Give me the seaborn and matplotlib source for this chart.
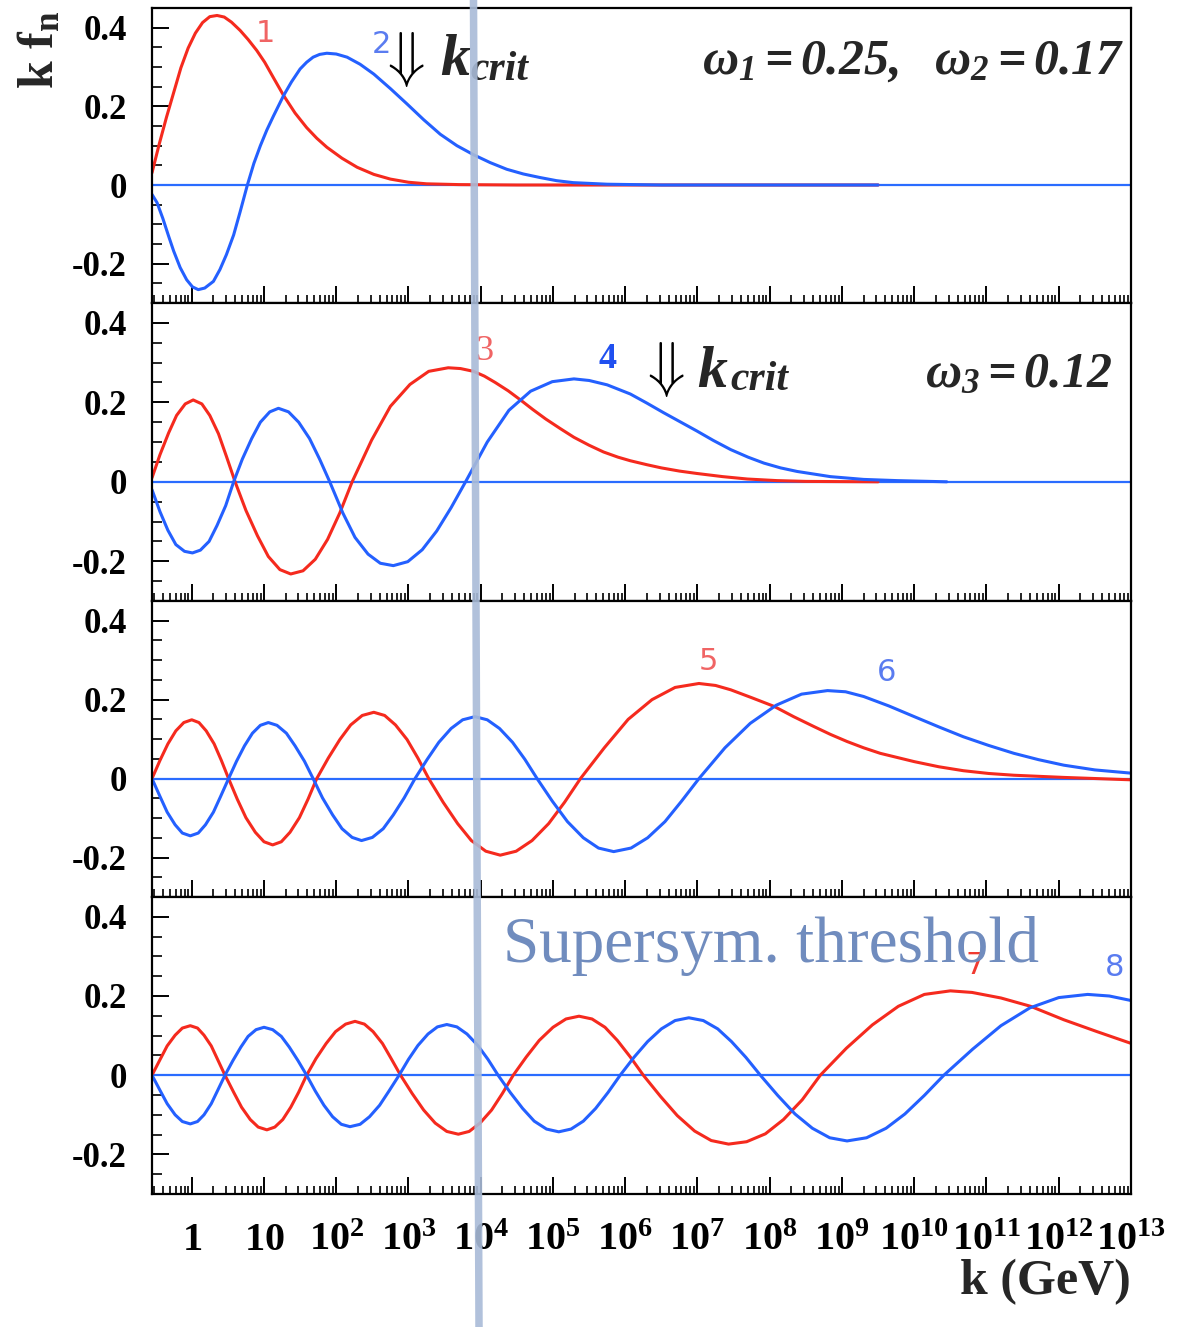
import numpy as np
import pandas as pd
import matplotlib
matplotlib.use("Agg")
import matplotlib.pyplot as plt
import seaborn as sns
from matplotlib.lines import Line2D
from matplotlib.ticker import FixedLocator, MultipleLocator, NullFormatter

# ---------------- data: (log10 k [GeV], k f_n) ----------------
curve1 = [(-0.55, 0.031), (-0.45, 0.104), (-0.35, 0.172), (-0.25, 0.235), (-0.15, 0.298), (-0.05, 0.348),
          (0.05, 0.386), (0.15, 0.413), (0.25, 0.428), (0.35, 0.431), (0.45, 0.427), (0.55, 0.414),
          (0.67, 0.393), (0.78, 0.370), (0.90, 0.342), (1.01, 0.312), (1.13, 0.273), (1.27, 0.228),
          (1.43, 0.183), (1.59, 0.146), (1.73, 0.119), (1.87, 0.096), (2.08, 0.068), (2.29, 0.045),
          (2.52, 0.027), (2.75, 0.015), (3.00, 0.007), (3.25, 0.003), (3.70, 0.001), (4.50, 0.0), (9.50, 0.0)]

curve2 = [(-0.55, -0.024), (-0.48, -0.045), (-0.40, -0.085), (-0.32, -0.130), (-0.25, -0.168), (-0.16, -0.210),
          (-0.07, -0.241), (0.01, -0.259), (0.09, -0.266), (0.18, -0.262), (0.30, -0.245), (0.39, -0.215),
          (0.48, -0.177), (0.58, -0.127), (0.67, -0.068), (0.77, 0.0), (0.86, 0.055), (0.95, 0.100),
          (1.04, 0.140), (1.13, 0.175), (1.27, 0.227), (1.38, 0.262), (1.50, 0.295), (1.59, 0.312),
          (1.68, 0.325), (1.77, 0.332), (1.87, 0.335), (2.00, 0.333), (2.15, 0.325), (2.33, 0.307),
          (2.52, 0.282), (2.75, 0.245), (2.98, 0.206), (3.21, 0.166), (3.44, 0.129), (3.67, 0.100),
          (3.90, 0.077), (4.13, 0.057), (4.36, 0.040), (4.59, 0.028), (4.82, 0.019), (5.05, 0.011),
          (5.28, 0.006), (5.75, 0.002), (6.50, 0.0), (9.50, 0.0)]

curve3 = [(-0.55, 0.010), (-0.44, 0.068), (-0.32, 0.123), (-0.21, 0.167), (-0.09, 0.196), (0.02, 0.206),
          (0.14, 0.196), (0.25, 0.167), (0.37, 0.121), (0.48, 0.064), (0.60, 0.0),
          (0.75, -0.072), (0.91, -0.136), (1.06, -0.188), (1.22, -0.221), (1.37, -0.232),
          (1.54, -0.224), (1.71, -0.195), (1.88, -0.145), (2.05, -0.078), (2.22, 0.0),
          (2.49, 0.105), (2.75, 0.190), (3.02, 0.245), (3.28, 0.278), (3.55, 0.287),
          (3.72, 0.285), (3.90, 0.278), (4.05, 0.266), (4.20, 0.250), (4.38, 0.229), (4.55, 0.206),
          (4.72, 0.182), (4.90, 0.158), (5.10, 0.134), (5.29, 0.112), (5.50, 0.092), (5.70, 0.075),
          (5.90, 0.062), (6.07, 0.053), (6.30, 0.043), (6.50, 0.035), (6.75, 0.027), (6.99, 0.021),
          (7.35, 0.013), (7.69, 0.007), (8.10, 0.003), (8.50, 0.001), (9.50, 0.0)]

curve4 = [(-0.55, -0.020), (-0.44, -0.075), (-0.33, -0.122), (-0.22, -0.158), (-0.10, -0.175), (0.01, -0.179),
          (0.12, -0.172), (0.24, -0.150), (0.35, -0.110), (0.47, -0.060), (0.58, 0.0),
          (0.70, 0.057), (0.83, 0.109), (0.95, 0.150), (1.08, 0.176), (1.20, 0.185),
          (1.34, 0.176), (1.48, 0.150), (1.63, 0.109), (1.77, 0.057), (1.91, 0.0),
          (2.09, -0.078), (2.26, -0.140), (2.44, -0.182), (2.61, -0.205), (2.79, -0.211),
          (2.99, -0.201), (3.19, -0.171), (3.39, -0.124), (3.59, -0.065), (3.79, 0.0),
          (4.09, 0.100), (4.39, 0.180), (4.69, 0.228), (4.99, 0.252), (5.29, 0.259),
          (5.50, 0.255), (5.75, 0.244), (6.07, 0.221), (6.30, 0.198), (6.53, 0.174), (6.76, 0.151),
          (6.99, 0.128), (7.22, 0.104), (7.46, 0.081), (7.70, 0.062), (7.92, 0.047), (8.15, 0.035),
          (8.38, 0.026), (8.84, 0.013), (9.30, 0.006), (9.76, 0.003), (10.45, 0.0)]

curve5 = [(-0.55, 0.0), (-0.44, 0.046), (-0.33, 0.088), (-0.22, 0.121), (-0.11, 0.142), (0.0, 0.149),
          (0.10, 0.142), (0.20, 0.121), (0.31, 0.088), (0.41, 0.046), (0.51, 0.0),
          (0.63, -0.052), (0.75, -0.099), (0.88, -0.136), (1.00, -0.160), (1.12, -0.168),
          (1.24, -0.160), (1.36, -0.136), (1.49, -0.099), (1.61, -0.052), (1.73, 0.0),
          (1.89, 0.052), (2.05, 0.099), (2.20, 0.136), (2.36, 0.160), (2.52, 0.168),
          (2.67, 0.160), (2.82, 0.136), (2.98, 0.099), (3.13, 0.052), (3.28, 0.0),
          (3.48, -0.060), (3.68, -0.114), (3.87, -0.157), (4.07, -0.184), (4.27, -0.194),
          (4.49, -0.184), (4.71, -0.157), (4.94, -0.114), (5.16, -0.060), (5.38, 0.0),
          (5.71, 0.078), (6.04, 0.150), (6.37, 0.200), (6.69, 0.231), (7.02, 0.241),
          (7.25, 0.236), (7.46, 0.225), (7.75, 0.205), (8.06, 0.183), (8.33, 0.157), (8.61, 0.132),
          (8.84, 0.112), (9.07, 0.094), (9.30, 0.078), (9.53, 0.064), (10.00, 0.043), (10.34, 0.030),
          (10.68, 0.020), (11.03, 0.013), (11.38, 0.0085), (12.07, 0.003), (12.99, -0.003)]

curve6 = [(-0.55, 0.0), (-0.44, -0.045), (-0.34, -0.085), (-0.23, -0.117), (-0.13, -0.138), (-0.02, -0.145),
          (0.09, -0.138), (0.19, -0.117), (0.30, -0.085), (0.40, -0.045), (0.51, 0.0),
          (0.62, 0.044), (0.73, 0.083), (0.84, 0.115), (0.95, 0.135), (1.06, 0.142),
          (1.18, 0.135), (1.31, 0.115), (1.43, 0.083), (1.56, 0.044), (1.68, 0.0),
          (1.81, -0.049), (1.95, -0.092), (2.08, -0.127), (2.22, -0.149), (2.35, -0.157),
          (2.50, -0.149), (2.65, -0.127), (2.79, -0.092), (2.94, -0.049), (3.09, 0.0),
          (3.26, 0.049), (3.42, 0.092), (3.59, 0.127), (3.75, 0.149), (3.92, 0.157),
          (4.09, 0.149), (4.26, 0.127), (4.44, 0.092), (4.61, 0.049), (4.78, 0.0),
          (4.99, -0.057), (5.20, -0.109), (5.42, -0.150), (5.63, -0.176), (5.84, -0.185),
          (6.08, -0.176), (6.31, -0.150), (6.55, -0.109), (6.78, -0.057), (7.02, 0.0),
          (7.38, 0.078), (7.73, 0.140), (8.09, 0.186), (8.44, 0.214), (8.80, 0.223),
          (9.05, 0.220), (9.30, 0.208), (9.65, 0.184), (10.00, 0.157), (10.34, 0.131), (10.68, 0.106),
          (11.03, 0.084), (11.38, 0.064), (11.72, 0.048), (12.07, 0.034), (12.50, 0.022), (12.99, 0.014)]

curve7 = [(-0.55, 0.0), (-0.44, 0.039), (-0.34, 0.074), (-0.23, 0.101), (-0.13, 0.119), (-0.02, 0.125),
          (0.08, 0.119), (0.17, 0.101), (0.27, 0.074), (0.36, 0.039), (0.46, 0.0),
          (0.58, -0.043), (0.69, -0.081), (0.81, -0.112), (0.92, -0.131), (1.04, -0.138),
          (1.15, -0.131), (1.26, -0.112), (1.37, -0.081), (1.48, -0.043), (1.59, 0.0),
          (1.72, 0.042), (1.86, 0.080), (1.99, 0.110), (2.13, 0.129), (2.26, 0.136),
          (2.39, 0.129), (2.51, 0.110), (2.64, 0.080), (2.76, 0.042), (2.89, 0.0),
          (3.05, -0.046), (3.21, -0.088), (3.37, -0.121), (3.53, -0.142), (3.69, -0.149),
          (3.84, -0.142), (3.99, -0.121), (4.15, -0.088), (4.30, -0.046), (4.45, 0.0),
          (4.63, 0.046), (4.81, 0.088), (5.00, 0.121), (5.18, 0.142), (5.36, 0.149),
          (5.54, 0.142), (5.72, 0.121), (5.89, 0.088), (6.07, 0.046), (6.25, 0.0),
          (6.49, -0.054), (6.72, -0.102), (6.96, -0.141), (7.19, -0.165), (7.43, -0.174),
          (7.68, -0.168), (7.94, -0.148), (8.19, -0.112), (8.45, -0.062), (8.70, 0.0),
          (9.06, 0.068), (9.42, 0.127), (9.78, 0.174), (10.14, 0.204), (10.50, 0.213),
          (10.80, 0.209), (11.20, 0.195), (11.61, 0.174), (12.07, 0.140), (12.53, 0.110), (12.99, 0.081)]

curve8 = [(-0.55, 0.0), (-0.44, -0.038), (-0.34, -0.072), (-0.23, -0.100), (-0.13, -0.117), (-0.02, -0.123),
          (0.08, -0.117), (0.17, -0.100), (0.27, -0.072), (0.36, -0.038), (0.46, 0.0),
          (0.57, 0.037), (0.68, 0.071), (0.78, 0.098), (0.89, 0.115), (1.00, 0.121),
          (1.12, 0.115), (1.24, 0.098), (1.35, 0.071), (1.47, 0.037), (1.59, 0.0),
          (1.71, -0.040), (1.83, -0.076), (1.95, -0.105), (2.07, -0.124), (2.19, -0.130),
          (2.33, -0.124), (2.46, -0.105), (2.60, -0.076), (2.73, -0.040), (2.87, 0.0),
          (3.00, 0.040), (3.13, 0.075), (3.27, 0.104), (3.40, 0.122), (3.53, 0.128),
          (3.67, 0.122), (3.81, 0.104), (3.96, 0.075), (4.10, 0.040), (4.24, 0.0),
          (4.41, -0.044), (4.58, -0.084), (4.74, -0.116), (4.91, -0.136), (5.08, -0.143),
          (5.25, -0.136), (5.42, -0.116), (5.59, -0.084), (5.76, -0.044), (5.93, 0.0),
          (6.12, 0.045), (6.31, 0.085), (6.50, 0.117), (6.69, 0.138), (6.88, 0.145),
          (7.08, 0.138), (7.28, 0.117), (7.47, 0.085), (7.67, 0.045), (7.87, 0.0),
          (8.11, -0.051), (8.35, -0.098), (8.59, -0.134), (8.83, -0.158), (9.07, -0.166),
          (9.34, -0.158), (9.61, -0.134), (9.87, -0.098), (10.14, -0.051), (10.41, 0.0),
          (10.81, 0.066), (11.20, 0.125), (11.60, 0.170), (12.00, 0.196), (12.40, 0.204),
          (12.70, 0.200), (12.99, 0.189)]

curve_labels = ["1", "2", "3", "4", "5", "6", "7", "8"]
x_tick_exps = list(range(0, 14))
y_tick_vals = [-0.2, 0.0, 0.2, 0.4]
y_tick_text = ["-0.2", "0", "0.2", "0.4"]
omega_texts = [r"$\omega_{1}=0.25,\ \ \omega_{2}=0.17$", r"$\omega_{3}=0.12$"]

# ---------------- styling ----------------
sns.set_theme(style="ticks")
plt.rcParams.update({
    "font.family": ["Liberation Serif", "DejaVu Serif", "DejaVu Sans"],
    "mathtext.fontset": "custom",
    "mathtext.rm": "Liberation Serif:bold:italic",
    "mathtext.it": "Liberation Serif:bold:italic",
    "mathtext.bf": "Liberation Serif:bold",
    "axes.edgecolor": "black",
    "axes.linewidth": 1.6,
    "xtick.color": "black",
    "ytick.color": "black",
})

RED = "#f52a1e"
BLUE = "#2460ff"
ZERO = "#2a6cff"

W, H = 1186, 1327
fig = plt.figure(figsize=(W / 100, H / 100), dpi=100)
panel_px = [(8, 303), (303, 601), (601, 897), (897, 1194)]
L, R = 152, 1131

pairs = [(curve1, curve2), (curve3, curve4), (curve5, curve6), (curve7, curve8)]


def frame(points, name):
    x, y = zip(*points)
    return pd.DataFrame({"k": 10.0 ** np.array(x), "f": np.array(y), "n": name})


axes = []
for i, (top, bot) in enumerate(panel_px):
    ax = fig.add_axes([L / W, 1 - bot / H, (R - L) / W, (bot - top) / H])
    ax.set_xscale("log")
    ax.axhline(0, color=ZERO, lw=1.6, zorder=1)
    red_pts, blue_pts = pairs[i]
    df = pd.concat([frame(red_pts, curve_labels[2 * i]), frame(blue_pts, curve_labels[2 * i + 1])],
                   ignore_index=True)
    sns.lineplot(data=df, x="k", y="f", hue="n", palette=[RED, BLUE], estimator=None,
                 sort=False, lw=2.2, legend=False, ax=ax, zorder=2)
    ax.set_xlim(10 ** -0.55, 10 ** 13.0)
    ax.set_ylim(-0.30, 0.45)
    ax.set_xlabel("")
    ax.set_ylabel("")
    ax.xaxis.set_major_locator(FixedLocator([10.0 ** n for n in x_tick_exps]))
    ax.xaxis.set_minor_locator(FixedLocator([m * 10.0 ** n for n in range(-1, 13) for m in range(2, 10)]))
    ax.xaxis.set_minor_formatter(NullFormatter())
    ax.yaxis.set_major_locator(FixedLocator(y_tick_vals))
    ax.yaxis.set_minor_locator(MultipleLocator(0.05))
    ax.set_yticklabels(y_tick_text)
    ax.tick_params(axis="both", which="both", direction="in", top=False, right=False)
    ax.tick_params(axis="x", which="major", length=12, width=1.4)
    ax.tick_params(axis="x", which="minor", length=6, width=1.2)
    ax.tick_params(axis="y", which="major", length=12, width=1.4, labelsize=25, pad=18)
    ax.tick_params(axis="y", which="minor", length=7, width=1.2)
    for lbl in ax.get_yticklabels():
        lbl.set_fontweight("bold")
        lbl.set_family("Liberation Serif")
    if i < 3:
        ax.tick_params(axis="x", labelbottom=False)
    else:
        xl = []
        for n in x_tick_exps:
            if n == 0:
                xl.append(r"$\mathbf{1}$")
            elif n == 1:
                xl.append(r"$\mathbf{10}$")
            else:
                xl.append(r"$\mathbf{10^{%d}}$" % n)
        ax.set_xticklabels(xl)
        ax.tick_params(axis="x", which="major", labelsize=29, pad=20)
    for s in ax.spines.values():
        s.set_color("black")
        s.set_linewidth(1.6)
    axes.append(ax)

ax1, ax2, ax3, ax4 = axes

# curve number labels
lab_red = "#f06464"
lab_blue = "#5a7cf0"
ax1.text(0.1154, 0.915, curve_labels[0], color=lab_red, fontsize=22, family="DejaVu Sans",
         ha="center", va="center", transform=ax1.transAxes)
ax1.text(0.234, 0.875, curve_labels[1], color=lab_blue, fontsize=22, family="DejaVu Sans",
         ha="center", va="center", transform=ax1.transAxes)
ax2.text(0.339, 0.836, curve_labels[2], color=lab_red, fontsize=26,
         ha="center", va="center", transform=ax2.transAxes)
ax2.text(0.465, 0.809, curve_labels[3], color="#2050f0", fontsize=26, fontweight="bold",
         ha="center", va="center", transform=ax2.transAxes)
ax3.text(0.568, 0.794, curve_labels[4], color=lab_red, fontsize=22, family="DejaVu Sans",
         ha="center", va="center", transform=ax3.transAxes)
ax3.text(0.750, 0.760, curve_labels[5], color=lab_blue, fontsize=22, family="DejaVu Sans",
         ha="center", va="center", transform=ax3.transAxes)
ax4.text(0.841, 0.771, curve_labels[6], color="#f03a30", fontsize=22, family="DejaVu Sans",
         ha="center", va="center", transform=ax4.transAxes)
ax4.text(0.983, 0.761, curve_labels[7], color=lab_blue, fontsize=22, family="DejaVu Sans",
         ha="center", va="center", transform=ax4.transAxes)

# k_crit arrows and labels
for ax, ax_x, ax_y, kx, ky, cx, cy in [
        (ax1, 0.2543, 0.827, 0.2942, 0.7729, 0.3248, 0.756),
        (ax2, 0.520, 0.778, 0.5567, 0.718, 0.5904, 0.708)]:
    ax.text(ax_x, ax_y, r"$\Downarrow$", fontsize=44, math_fontfamily="cm", color="black",
            ha="center", va="center", transform=ax.transAxes)
    ax.text(kx, ky, "k", fontsize=43, family="Liberation Serif", fontweight="bold",
            fontstyle="italic", ha="left", va="baseline", transform=ax.transAxes)
    ax.text(cx, cy, "crit", fontsize=30, family="Liberation Serif", fontweight="bold",
            fontstyle="italic", ha="left", va="baseline", transform=ax.transAxes)

ax1.text(0.9939, 0.776, omega_texts[0], fontsize=36, ha="right", va="baseline",
         transform=ax1.transAxes)
ax2.text(0.9806, 0.718, omega_texts[1], fontsize=36, ha="right", va="baseline",
         transform=ax2.transAxes)

ax4.text(0.3585, 0.781, "Supersym. threshold", fontsize=47, family="Liberation Serif",
         color="#708cbe", ha="left", va="baseline", transform=ax4.transAxes, zorder=5)

ax4.set_xlabel("k (GeV)", loc="right", fontsize=36, fontweight="bold", labelpad=0)

fig.text(17 / W, 1 - 10 / H, r"$\mathbf{k\ f_{n}}$", rotation=90, ha="left", va="top", fontsize=36)

# vertical threshold band
fig.add_artist(Line2D([473.5 / W, 479.0 / W], [1.0, 0.0], transform=fig.transFigure,
                      color="#a9bbd8", lw=5.4, alpha=0.9, zorder=10))

fig.savefig("out.png", dpi=100)
